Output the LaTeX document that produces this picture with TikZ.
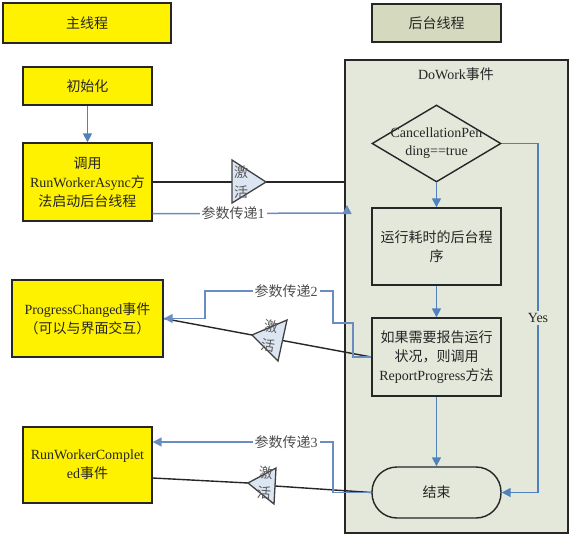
\documentclass[tikz,border=0pt]{standalone}
\usepackage{fontspec}
\setmainfont{Liberation Serif}
\newfontfamily\cjk{Noto Sans CJK SC}
\newcommand{\zh}[1]{{\cjk #1}}
\usetikzlibrary{shapes.geometric,arrows.meta,calc}
\definecolor{dwfill}{HTML}{E3E8DA}
\definecolor{bgfill}{HTML}{D5D9BE}
\definecolor{lineblue}{HTML}{4F81BD}
\definecolor{passblue}{HTML}{6A8CC0}
\definecolor{trifill}{HTML}{DCE6F2}
\tikzset{
  every node/.style={font=\fontsize{14}{19}\selectfont, inner sep=0pt},
  box/.style={draw=black!85, line width=1.4pt, align=center, text=black!85},
  ybox/.style={box, fill=yellow},
  gbox/.style={box, fill=dwfill},
  flow/.style={draw=lineblue, line width=1.6pt, -{Triangle[length=9pt,width=9pt]}},
  pass/.style={draw=passblue, line width=1.5pt},
  passarrow/.style={pass, -{Triangle[length=9pt,width=9pt]}},
  act/.style={draw=black!85, line width=1.4pt},
  tri/.style={draw=black!75, line width=1.3pt, fill=trifill},
  lbl/.style={fill=white, text=black!70, inner xsep=2pt, inner ysep=1pt},
  acttext/.style={text=black!65, align=center, font=\fontsize{14}{20}\selectfont},
}
\begin{document}
\begin{tikzpicture}[x=1pt,y=-1pt]
\fill[white] (0,0) rectangle (571,538);
\useasboundingbox (0,0) rectangle (571,538);

% left column
\node[ybox, minimum width=168, minimum height=40] (main) at (87,23) {\zh{主线程}};
\node[ybox, minimum width=129, minimum height=38] (init) at (87.5,86) {\zh{初始化}};
\node[ybox, minimum width=129, minimum height=78] (call) at (87.5,182)
  {\zh{调用}\\RunWorkerAsync\zh{方}\\\zh{法启动后台线程}};
\node[ybox, minimum width=151, minimum height=77] (pc) at (87.5,318.5)
  {ProgressChanged\zh{事件}\\\zh{（可以与界面交互）}};
\node[ybox, minimum width=129, minimum height=76] (rwc) at (87.5,465)
  {RunWorkerComplet\\ed\zh{事件}};

% right column
\node[box, fill=bgfill, minimum width=129, minimum height=38] (bgt) at (436.5,23) {\zh{后台线程}};
\node[gbox, minimum width=223, minimum height=473] (dowork) at (456.5,296.5) {};
\node[text=black!85] (dwlabel) at (456,74) {DoWork\zh{事件}};
\node[gbox, diamond, minimum width=129, minimum height=77] (dia) at (436.5,143.5) {};
\node[text=black!85, align=center, font=\fontsize{14}{18}\selectfont] (diatext) at (dia.center) {CancellationPen\\ding==true};
\node[gbox, minimum width=129, minimum height=77] (proc) at (436.5,246.5)
  {\zh{运行耗时的后台程}\\\zh{序}};
\node[gbox, minimum width=129, minimum height=78] (report) at (436.5,357)
  {\zh{如果需要报告运行}\\\zh{状况，则调用}\\ReportProgress\zh{方法}};
\node[gbox, minimum width=129, minimum height=51, rounded corners=25pt] (endn) at (436.5,492.5) {\zh{结束}};

% triangles
\coordinate (t1a) at (232,160); \coordinate (t1tip) at (266,182); \coordinate (t1b) at (232,203);
\coordinate (t1mid) at (232,182);
\coordinate (t2tip) at (252,335); \coordinate (t2a) at (287,320); \coordinate (t2b) at (278,361);
\coordinate (t2mid) at ($(t2a)!0.5!(t2b)$);
\coordinate (t3tip) at (248,483); \coordinate (t3a) at (276,468); \coordinate (t3b) at (274,504);
\coordinate (t3mid) at ($(t3a)!0.5!(t3b)$);

% activation lines
\draw[act] (call.east) -- (t1mid);
\draw[act] (t1tip) -- (dowork.west |- t1tip);
\draw[act] (report.west) -- (t2mid);
\draw[act] (t2tip) -- (pc.east);
\draw[act] (endn.west) -- (t3mid);
\draw[act] (t3tip) -- ([yshift=-13pt]rwc.east);

\draw[tri] (t1a) -- (t1tip) -- (t1b) -- cycle;
\draw[tri] (t2tip) -- (t2a) -- (t2b) -- cycle;
\draw[tri] (t3tip) -- (t3a) -- (t3b) -- cycle;
\node[acttext] (act1) at (241,182) {\zh{激}\\\zh{活}};
\node[acttext, rotate=-10] (act2) at (270,336) {\zh{激}\\\zh{活}};
\node[acttext, rotate=-5] (act3) at (265,483) {\zh{激}\\\zh{活}};

% flow arrows
\draw[flow] (init.south) -- (call.north);
\draw[flow] (dia.south) -- (proc.north);
\draw[flow] (proc.south) -- (report.north);
\draw[flow] (report.south) -- (endn.north);
\coordinate (yes1) at (538,143.5);
\coordinate (yes2) at (538,492.5);
\draw[flow] (dia.east) -- (yes1) -- (yes2) -- (endn.east);
\node[fill=dwfill, text=black!85, inner ysep=2pt] (yes) at (538,318) {Yes};

% parameter passing lines
\coordinate (p1a) at (347,213);
\coordinate (p1b) at (347,205);
\draw[passarrow] ([yshift=8pt]call.south east) -- (p1a) -- (p1b);
\node[lbl] (pass1) at (233,213) {\zh{参数传递}1};

\draw[passarrow] (report.west) -- (353,357) -- (353,323) -- (333,323) -- (333,291)
  -- (205,291) -- (205,318.5) -- (pc.east);
\node[lbl] (pass2) at (286,291) {\zh{参数传递}2};

\draw[passarrow] (endn.west) -- (333,492.5) -- (333,442) -- (rwc.east |- 0,442);
\node[lbl] (pass3) at (286,442) {\zh{参数传递}3};
\end{tikzpicture}
\end{document}
